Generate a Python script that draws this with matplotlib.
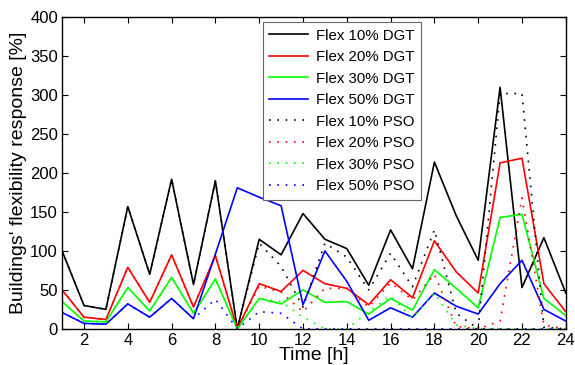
import numpy as np
import matplotlib
matplotlib.use("Agg")
import matplotlib.pyplot as plt

plt.rcParams['font.family'] = ['Liberation Sans', 'DejaVu Sans']

# hours of the day
hours = list(range(1, 25))

# DGT results
dgt_10 = [100, 30, 25, 157, 70, 192, 57, 190, 0, 115, 95, 148, 115, 103, 56, 127, 77, 214, 145, 88, 310, 53, 117, 46]
dgt_20 = [50, 15, 12, 79, 34, 95, 28, 94, 0, 58, 48, 75, 58, 52, 31, 63, 40, 113, 73, 46, 213, 219, 58, 22]
dgt_30 = [35, 10, 9, 53, 23, 66, 20, 64, 0, 39, 32, 50, 34, 35, 19, 39, 24, 76, 52, 27, 143, 147, 39, 17]
dgt_50 = [21, 7, 6, 32, 15, 39, 13, 96, 181, 169, 158, 31, 100, 61, 11, 27, 15, 46, 29, 19, 58, 88, 25, 10]

# PSO results
pso_10 = [100, 30, 25, 157, 70, 192, 57, 190, 0, 110, 80, 28, 110, 92, 50, 97, 54, 127, 20, 0, 302, 302, 2, 0]
pso_20 = [50, 15, 12, 79, 34, 95, 28, 94, 0, 55, 47, 22, 52, 52, 28, 59, 37, 70, 3, 0, 10, 168, 5, 0]
pso_30 = [35, 10, 9, 53, 23, 66, 20, 64, 0, 39, 35, 15, 0, 0, 22, 42, 14, 46, 5, 0, 0, 0, 0, 0]
pso_50 = [21, 7, 6, 32, 15, 39, 13, 38, 0, 22, 20, 0, 0, 0, 0, 0, 0, 0, 0, 0, 0, 0, 0, 0]

labels = ["Flex 10% DGT", "Flex 20% DGT", "Flex 30% DGT", "Flex 50% DGT",
          "Flex 10% PSO", "Flex 20% PSO", "Flex 30% PSO", "Flex 50% PSO"]
colors = ["k", "r", "#00ff00", "b"]

fig = plt.figure(figsize=(5.75, 3.65), dpi=100)
ax = fig.add_axes([0.108, 0.099, 0.876, 0.854])

# solid lines for DGT
for vals, c, lab in zip([dgt_10, dgt_20, dgt_30, dgt_50], colors, labels[:4]):
    ax.plot(hours, vals, color=c, lw=1.2, label=lab)

# dotted lines for PSO
for vals, c, lab in zip([pso_10, pso_20, pso_30, pso_50], colors, labels[4:]):
    ax.plot(hours, vals, color=c, lw=1.2, linestyle=(0, (1, 4)), label=lab)

ax.set_xlim(1, 24)
ax.set_ylim(0, 400)
ax.set_xticks(range(2, 25, 2))
ax.set_yticks(range(0, 401, 50))
ax.tick_params(direction="in", top=True, right=True, length=4, labelsize=12, pad=3)
for sp in ax.spines.values():
    sp.set_linewidth(1.0)

ax.set_xlabel("Time [h]", fontsize=14, labelpad=-1)
ax.set_ylabel("Buildings' flexibility response [%]", fontsize=14, labelpad=2)

leg = ax.legend(loc="upper left", bbox_to_anchor=(0.398, 0.985), borderaxespad=0,
                fontsize=10.8, fancybox=False, framealpha=1, edgecolor="0.4",
                handlelength=2.6, labelspacing=0.5, borderpad=0.45, handletextpad=0.5)
leg.get_frame().set_linewidth(0.8)

fig.savefig("out.png", dpi=100)
